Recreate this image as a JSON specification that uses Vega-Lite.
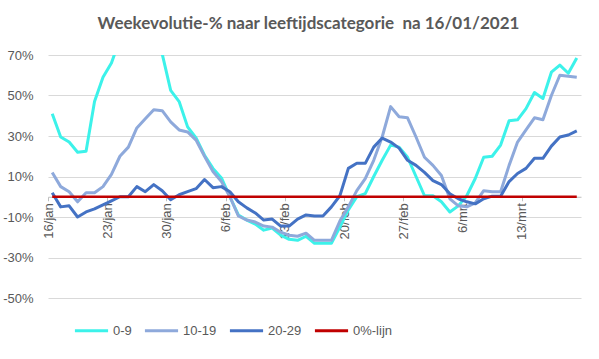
{
  "$schema": "https://vega.github.io/schema/vega-lite/v6.json",
  "width": 533,
  "height": 243,
  "autosize": "none",
  "padding": {"left": 48, "top": 55, "right": 18, "bottom": 61},
  "background": "white",
  "title": {
    "text": "Weekevolutie-% naar leeftijdscategorie\u00a0 na 16/01/2021",
    "font": "Lato",
    "fontSize": 17,
    "fontWeight": "bold",
    "color": "#595959",
    "anchor": "middle",
    "dx": -6,
    "baseline": "alphabetic",
    "offset": 3
  },
  "config": {
    "view": {"stroke": null},
    "font": "Liberation Sans"
  },
  "data": {
    "values": [
      {"datum": "2021-01-16", "0-9": 41, "10-19": 12, "20-29": 2, "0%-lijn": 0},
      {"datum": "2021-01-17", "0-9": 29.5, "10-19": 5, "20-29": -5, "0%-lijn": 0},
      {"datum": "2021-01-18", "0-9": 27, "10-19": 2.5, "20-29": -4.5, "0%-lijn": 0},
      {"datum": "2021-01-19", "0-9": 22, "10-19": -2.5, "20-29": -10, "0%-lijn": 0},
      {"datum": "2021-01-20", "0-9": 22.5, "10-19": 2, "20-29": -7.5, "0%-lijn": 0},
      {"datum": "2021-01-21", "0-9": 47, "10-19": 2, "20-29": -6, "0%-lijn": 0},
      {"datum": "2021-01-22", "0-9": 59, "10-19": 5, "20-29": -4, "0%-lijn": 0},
      {"datum": "2021-01-23", "0-9": 66, "10-19": 11, "20-29": -2, "0%-lijn": 0},
      {"datum": "2021-01-24", "0-9": 78, "10-19": 20, "20-29": 0, "0%-lijn": 0},
      {"datum": "2021-01-25", "0-9": 92, "10-19": 24.5, "20-29": 0, "0%-lijn": 0},
      {"datum": "2021-01-26", "0-9": 100, "10-19": 34, "20-29": 5, "0%-lijn": 0},
      {"datum": "2021-01-27", "0-9": 98, "10-19": 38.5, "20-29": 2.5, "0%-lijn": 0},
      {"datum": "2021-01-28", "0-9": 88, "10-19": 43, "20-29": 6, "0%-lijn": 0},
      {"datum": "2021-01-29", "0-9": 70.5, "10-19": 42.5, "20-29": 3, "0%-lijn": 0},
      {"datum": "2021-01-30", "0-9": 52.5, "10-19": 37, "20-29": -1.5, "0%-lijn": 0},
      {"datum": "2021-01-31", "0-9": 47, "10-19": 33, "20-29": 1, "0%-lijn": 0},
      {"datum": "2021-02-01", "0-9": 34.5, "10-19": 32, "20-29": 2.5, "0%-lijn": 0},
      {"datum": "2021-02-02", "0-9": 29, "10-19": 28, "20-29": 4, "0%-lijn": 0},
      {"datum": "2021-02-03", "0-9": 20.5, "10-19": 20, "20-29": 8.5, "0%-lijn": 0},
      {"datum": "2021-02-04", "0-9": 14, "10-19": 12.5, "20-29": 4.5, "0%-lijn": 0},
      {"datum": "2021-02-05", "0-9": 9.3, "10-19": 7.5, "20-29": 5, "0%-lijn": 0},
      {"datum": "2021-02-06", "0-9": 0, "10-19": 0, "20-29": 2.5, "0%-lijn": 0},
      {"datum": "2021-02-07", "0-9": -9, "10-19": -9.5, "20-29": -2.5, "0%-lijn": 0},
      {"datum": "2021-02-08", "0-9": -11.5, "10-19": -11.5, "20-29": -5.5, "0%-lijn": 0},
      {"datum": "2021-02-09", "0-9": -13.5, "10-19": -12.5, "20-29": -8, "0%-lijn": 0},
      {"datum": "2021-02-10", "0-9": -16.5, "10-19": -14.5, "20-29": -11.5, "0%-lijn": 0},
      {"datum": "2021-02-11", "0-9": -15.5, "10-19": -15, "20-29": -11, "0%-lijn": 0},
      {"datum": "2021-02-12", "0-9": -19, "10-19": -17.5, "20-29": -14.5, "0%-lijn": 0},
      {"datum": "2021-02-13", "0-9": -21, "10-19": -19, "20-29": -14.5, "0%-lijn": 0},
      {"datum": "2021-02-14", "0-9": -21.5, "10-19": -19.5, "20-29": -11, "0%-lijn": 0},
      {"datum": "2021-02-15", "0-9": -19.5, "10-19": -18, "20-29": -9, "0%-lijn": 0},
      {"datum": "2021-02-16", "0-9": -23, "10-19": -21.5, "20-29": -9.5, "0%-lijn": 0},
      {"datum": "2021-02-17", "0-9": -23, "10-19": -21.5, "20-29": -9.5, "0%-lijn": 0},
      {"datum": "2021-02-18", "0-9": -23, "10-19": -21.5, "20-29": -5, "0%-lijn": 0},
      {"datum": "2021-02-19", "0-9": -15, "10-19": -12, "20-29": 0.5, "0%-lijn": 0},
      {"datum": "2021-02-20", "0-9": -6.5, "10-19": -5, "20-29": 14, "0%-lijn": 0},
      {"datum": "2021-02-21", "0-9": 0, "10-19": 3, "20-29": 16.5, "0%-lijn": 0},
      {"datum": "2021-02-22", "0-9": 1.5, "10-19": 9, "20-29": 16.5, "0%-lijn": 0},
      {"datum": "2021-02-23", "0-9": 10, "10-19": 18, "20-29": 24.5, "0%-lijn": 0},
      {"datum": "2021-02-24", "0-9": 18, "10-19": 29.5, "20-29": 29, "0%-lijn": 0},
      {"datum": "2021-02-25", "0-9": 25.5, "10-19": 44.5, "20-29": 27, "0%-lijn": 0},
      {"datum": "2021-02-26", "0-9": 24.5, "10-19": 39.5, "20-29": 24, "0%-lijn": 0},
      {"datum": "2021-02-27", "0-9": 19.5, "10-19": 39, "20-29": 18, "0%-lijn": 0},
      {"datum": "2021-02-28", "0-9": 10, "10-19": 29.5, "20-29": 15.5, "0%-lijn": 0},
      {"datum": "2021-03-01", "0-9": 0.5, "10-19": 19.5, "20-29": 12, "0%-lijn": 0},
      {"datum": "2021-03-02", "0-9": 0.5, "10-19": 15.5, "20-29": 8, "0%-lijn": 0},
      {"datum": "2021-03-03", "0-9": -2.5, "10-19": 10.5, "20-29": 6, "0%-lijn": 0},
      {"datum": "2021-03-04", "0-9": -7.5, "10-19": -1, "20-29": 1.5, "0%-lijn": 0},
      {"datum": "2021-03-05", "0-9": -4.5, "10-19": -4.5, "20-29": -1, "0%-lijn": 0},
      {"datum": "2021-03-06", "0-9": 0.5, "10-19": -5, "20-29": -2.5, "0%-lijn": 0},
      {"datum": "2021-03-07", "0-9": 9, "10-19": -3, "20-29": -3.5, "0%-lijn": 0},
      {"datum": "2021-03-08", "0-9": 19.5, "10-19": 3, "20-29": -1, "0%-lijn": 0},
      {"datum": "2021-03-09", "0-9": 20, "10-19": 2.5, "20-29": 0.3, "0%-lijn": 0},
      {"datum": "2021-03-10", "0-9": 25.5, "10-19": 2.5, "20-29": 0.3, "0%-lijn": 0},
      {"datum": "2021-03-11", "0-9": 37.5, "10-19": 15.5, "20-29": 7.5, "0%-lijn": 0},
      {"datum": "2021-03-12", "0-9": 38, "10-19": 27, "20-29": 11.5, "0%-lijn": 0},
      {"datum": "2021-03-13", "0-9": 43.5, "10-19": 33, "20-29": 14, "0%-lijn": 0},
      {"datum": "2021-03-14", "0-9": 51.5, "10-19": 39, "20-29": 19, "0%-lijn": 0},
      {"datum": "2021-03-15", "0-9": 48.5, "10-19": 38, "20-29": 19, "0%-lijn": 0},
      {"datum": "2021-03-16", "0-9": 61.5, "10-19": 50, "20-29": 25, "0%-lijn": 0},
      {"datum": "2021-03-17", "0-9": 65, "10-19": 60, "20-29": 29.5, "0%-lijn": 0},
      {"datum": "2021-03-18", "0-9": 61, "10-19": 59.5, "20-29": 30.5, "0%-lijn": 0},
      {"datum": "2021-03-19", "0-9": 68.5, "10-19": 59, "20-29": 32.5, "0%-lijn": 0}
    ]
  },
  "transform": [
    {"fold": ["0-9", "10-19", "20-29", "0%-lijn"], "as": ["groep", "pct"]}
  ],
  "encoding": {
    "x": {
      "field": "datum",
      "type": "temporal",
      "scale": {
        "type": "utc",
        "domain": [
          {"year": 2021, "month": 1, "date": 15, "hours": 12, "utc": true},
          {"year": 2021, "month": 3, "date": 19, "hours": 12, "utc": true}
        ]
      },
      "axis": {
        "title": null,
        "values": [
          {"year": 2021, "month": 1, "date": 16, "utc": true},
          {"year": 2021, "month": 1, "date": 23, "utc": true},
          {"year": 2021, "month": 1, "date": 30, "utc": true},
          {"year": 2021, "month": 2, "date": 6, "utc": true},
          {"year": 2021, "month": 2, "date": 13, "utc": true},
          {"year": 2021, "month": 2, "date": 20, "utc": true},
          {"year": 2021, "month": 2, "date": 27, "utc": true},
          {"year": 2021, "month": 3, "date": 6, "utc": true},
          {"year": 2021, "month": 3, "date": 13, "utc": true}
        ],
        "labelExpr": "utcdate(datum.value) + '/' + ['jan','feb','mrt','apr'][utcmonth(datum.value)]",
        "labelAngle": -90,
        "labelFontSize": 13,
        "labelColor": "#595959",
        "labelPadding": 2,
        "labelOverlap": false,
        "labelFlush": false,
        "offset": -101.25,
        "grid": false,
        "domainColor": "#BFBFBF",
        "tickColor": "#BFBFBF",
        "tickSize": 4,
        "tickOffset": -4.23
      }
    },
    "y": {
      "field": "pct",
      "type": "quantitative",
      "scale": {"domain": [-50, 70], "nice": false, "zero": false},
      "axis": {
        "title": null,
        "values": [-50, -30, -10, 10, 30, 50, 70],
        "labelExpr": "datum.value + '%'",
        "labelFontSize": 13,
        "labelColor": "#595959",
        "labelPadding": 15,
        "domain": false,
        "ticks": false,
        "grid": true,
        "gridColor": "#D9D9D9",
        "gridWidth": 1
      }
    },
    "color": {
      "field": "groep",
      "type": "nominal",
      "scale": {
        "domain": ["0-9", "10-19", "20-29", "0%-lijn"],
        "range": ["#3CF2EA", "#8EA9DB", "#4472C4", "#C00000"]
      },
      "legend": {
        "title": null,
        "orient": "none",
        "direction": "horizontal",
        "legendX": 25,
        "legendY": 257,
        "padding": 0,
        "symbolType": "stroke",
        "symbolSize": 1100,
        "symbolStrokeWidth": 3,
        "labelFontSize": 13,
        "labelColor": "#595959",
        "labelOffset": 3,
        "columnPadding": 6
      }
    }
  },
  "layer": [
    {
      "transform": [{"filter": "datum.groep != '0%-lijn'"}],
      "mark": {"type": "line", "strokeWidth": 3, "clip": true, "strokeJoin": "round"}
    },
    {
      "transform": [{"filter": "datum.groep == '0%-lijn'"}],
      "mark": {"type": "line", "strokeWidth": 2.5, "clip": true}
    }
  ]
}
